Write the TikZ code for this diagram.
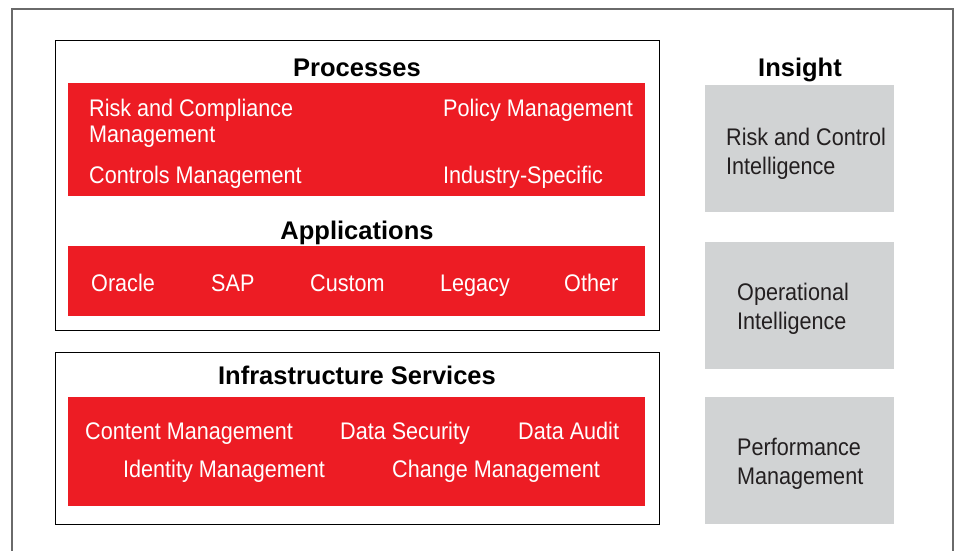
\documentclass[tikz,border=0pt]{standalone}
\usepackage{fontspec}
\setmainfont{Liberation Sans}
\newfontfamily\condf[FakeStretch=0.9]{Liberation Sans}
\definecolor{oraRed}{HTML}{ED1C24}
\definecolor{boxGray}{HTML}{D1D3D4}
\definecolor{txtDark}{HTML}{231F20}
\definecolor{frameGray}{HTML}{6A6A6A}
\tikzset{
  box/.style={anchor=north west, inner sep=0, outer sep=0},
  outerbox/.style={box, draw=black, line width=1pt, fill=white},
  redbox/.style={box, fill=oraRed},
  graybox/.style={box, fill=boxGray},
  title/.style={anchor=base, inner sep=0, font=\fontsize{25.5}{30}\selectfont\bfseries, text=black},
  item/.style={anchor=base west, inner sep=0, font=\condf\fontsize{24}{28}\selectfont, text=white},
  gitem/.style={item, text=txtDark},
}
\begin{document}
\begin{tikzpicture}[x=1pt,y=-1pt]
\useasboundingbox (0,0) rectangle (958,551);
\fill[white] (0,0) rectangle (958,551);
\draw[frameGray, line width=1.3pt] (12,551) -- (12,9) -- (953,9) -- (953,551);

% left column boxes
\node[outerbox, minimum width=604, minimum height=289] (top) at (55,41) {};
\node[redbox, minimum width=577, minimum height=113] (proc) at (68,83) {};
\node[redbox, minimum width=577, minimum height=70] (apps) at (68,246) {};
\node[outerbox, minimum width=604, minimum height=172] (bottom) at (55,352) {};
\node[redbox, minimum width=577, minimum height=109] (infra) at (68,397) {};

% right column boxes
\node[graybox, minimum width=189, minimum height=127] (g1) at (705,85) {};
\node[graybox, minimum width=189, minimum height=127] (g2) at (705,242) {};
\node[graybox, minimum width=189, minimum height=127] (g3) at (705,397) {};

% titles
\node[title] (tproc) at (357,77) {Processes};
\node[title] (tapps) at (357,239) {Applications};
\node[title] (tinfra) at (357,384) {Infrastructure Services};
\node[title] (tins) at (800,77) {Insight};

% processes
\node[item] (p1a) at (89,116) {Risk and Compliance};
\node[item] (p1b) at (89,142) {Management};
\node[item] (p2) at (89,183) {Controls Management};
\node[item] (p3) at (443,116) {Policy Management};
\node[item] (p4) at (443,183) {Industry-Specific};

% applications
\node[item] (a1) at (91,291) {Oracle};
\node[item] (a2) at (211,291) {SAP};
\node[item] (a3) at (310,291) {Custom};
\node[item] (a4) at (440,291) {Legacy};
\node[item] (a5) at (564,291) {Other};

% infrastructure
\node[item] (i1) at (85,439) {Content Management};
\node[item] (i2) at (340,439) {Data Security};
\node[item] (i3) at (518,439) {Data Audit};
\node[item] (i4) at (123,477) {Identity Management};
\node[item] (i5) at (392,477) {Change Management};

% insight
\node[gitem] (s1a) at (726,145) {Risk and Control};
\node[gitem] (s1b) at (726,174) {Intelligence};
\node[gitem] (s2a) at (737,300) {Operational};
\node[gitem] (s2b) at (737,329) {Intelligence};
\node[gitem] (s3a) at (737,455) {Performance};
\node[gitem] (s3b) at (737,484) {Management};
\end{tikzpicture}
\end{document}
